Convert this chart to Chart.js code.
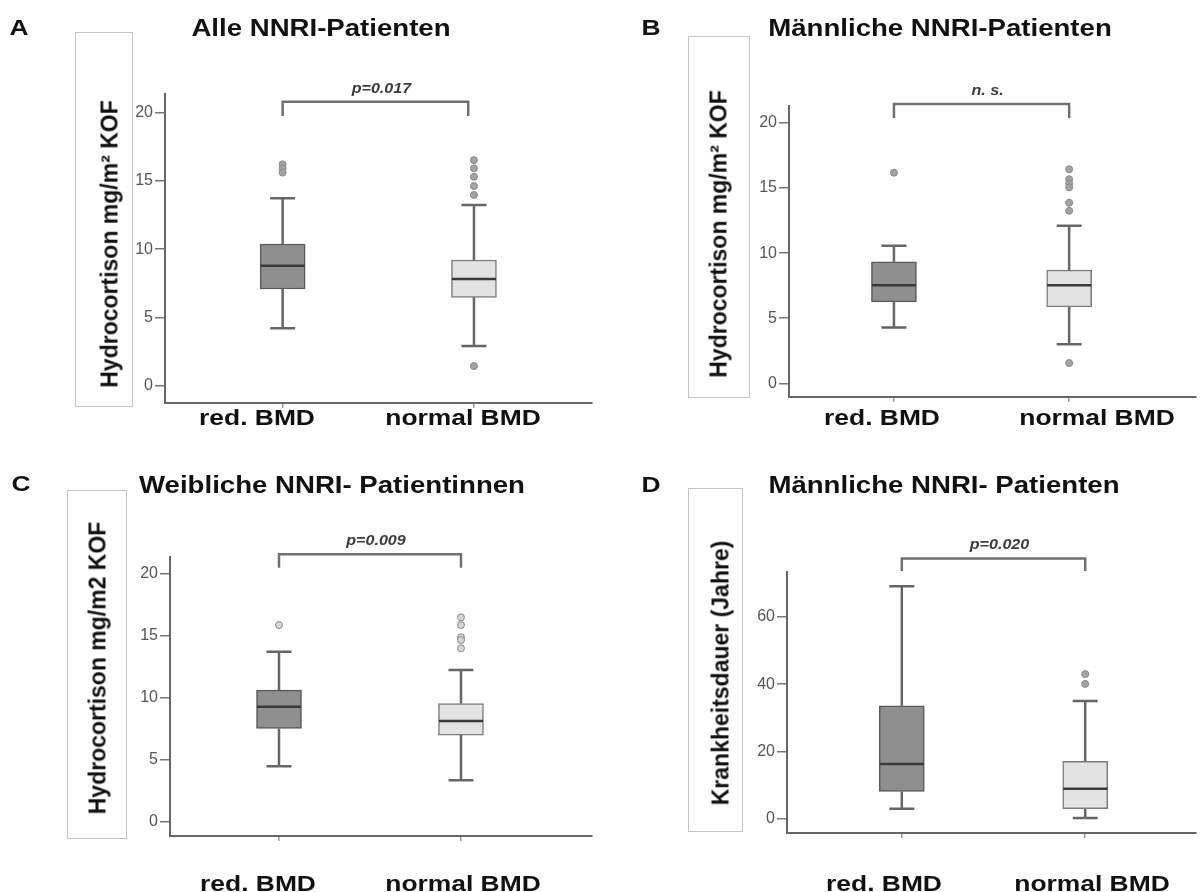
<!DOCTYPE html>
<html>
<head>
<meta charset="utf-8">
<script src="https://cdn.jsdelivr.net/npm/chart.js@4.4.0/dist/chart.umd.min.js"></script>
<style>
  body { margin: 0; width: 1201px; height: 892px; overflow: hidden; background: #fff; position: relative;
         font-family: "Liberation Sans", Arial, sans-serif; }
  canvas { position: absolute; }
  .txt { position: absolute; transform: translate(-50%, -50%) scaleX(1.2); white-space: nowrap;
         font-weight: bold; font-size: 22px; color: #111; }
  .title { font-size: 23px; }
  .ybox { position: absolute; border: 1px solid #c4c4c4; box-sizing: border-box; }
  .ylab { position: absolute; transform: translate(-50%, -50%) rotate(-90deg); white-space: nowrap;
          font-weight: bold; font-size: 23px; color: #111; }
</style>
</head>
<body>
<script>
const groups = ['red. BMD', 'normal BMD'];
const hydroTicks = [0, 5, 10, 15, 20];
const dauerTicks = [0, 20, 40, 60];

// box stats: [lower whisker, Q1, median, Q3, upper whisker]
const aRed = [4.22, 7.09, 8.79, 10.38, 13.72];
const aNormal = [2.92, 6.48, 7.82, 9.21, 13.23];
const aRedOut = [16.2, 15.9, 15.6];
const aNormalOut = [16.51, 15.91, 15.29, 14.61, 13.96, 1.46];

const bRed = [4.28, 6.25, 7.54, 9.33, 10.56];
const bNormal = [3.0, 5.87, 7.54, 8.69, 12.1];
const bRedOut = [16.18];
const bNormalOut = [16.44, 15.67, 15.35, 15.05, 13.87, 13.25, 1.56];

const cRed = [4.44, 7.49, 9.23, 10.58, 13.67];
const cNormal = [3.31, 6.95, 8.08, 9.5, 12.2];
const cRedOut = [15.83];
const cNormalOut = [16.45, 15.83, 14.84, 14.62, 13.95];

const dRed = [3.05, 8.2, 16.3, 33.6, 69.1];
const dNormal = [0.3, 3.05, 9.0, 17.1, 35.0];
const dRedOut = [];
const dNormalOut = [43.0, 40.1];

// significance brackets: x from/to, y leg bottom/top
const aBracketX = [1, 1.97], aBracketY = [19.73, 20.78];
const bBracketX = [1, 2], bBracketY = [20.38, 21.46];
const cBracketX = [1, 2], cBracketY = [20.46, 21.54];
const dBracketX = [1, 2], dBracketY = [73.6, 77.3];
const pLabels = ['p=0.017', 'n. s.', 'p=0.009', 'p=0.020'];

const titles = ['Alle NNRI-Patienten', 'Männliche NNRI-Patienten', 'Weibliche NNRI- Patientinnen', 'Männliche NNRI- Patienten'];
const yTitles = ['Hydrocortison mg/m² KOF', 'Hydrocortison mg/m² KOF', 'Hydrocortison mg/m2 KOF', 'Krankheitsdauer (Jahre)'];

Chart.defaults.font.family = '"Liberation Sans", Arial, sans-serif';

const panels = [
  { letter: 'A', left: 0, top: 0, w: 600, h: 446, area: { l: 165, t: 94, r: 592, b: 403 },
    xr: [0.385, 2.617], yr: [-1.24, 21.34], ticks: hydroTicks, stats: [aRed, aNormal], out: [aRedOut, aNormalOut],
    bx: aBracketX, by: aBracketY,
    letterPos: [19, 28], titlePos: [321, 28], box: [75, 32, 58, 375], yLabPos: [110, 244], xLab: [[257, 418], [463, 418]] },
  { letter: 'B', left: 600, top: 0, w: 601, h: 446, area: { l: 189, t: 106, r: 597, b: 397 },
    xr: [0.401, 2.724], yr: [-1.05, 21.3], ticks: hydroTicks, stats: [bRed, bNormal], out: [bRedOut, bNormalOut],
    bx: bBracketX, by: bBracketY,
    letterPos: [651, 28], titlePos: [940, 28], box: [688, 36, 62, 362], yLabPos: [719, 234], xLab: [[882, 418], [1097, 418]] },
  { letter: 'C', left: 0, top: 446, w: 600, h: 446, area: { l: 170, t: 111, r: 592, b: 390 },
    xr: [0.401, 2.72], yr: [-1.19, 21.32], ticks: hydroTicks, stats: [cRed, cNormal], out: [cRedOut, cNormalOut],
    bx: cBracketX, by: cBracketY,
    letterPos: [21, 484], titlePos: [332, 485], box: [67, 490, 60, 349], yLabPos: [98, 668], xLab: [[258, 884], [463, 884]] },
  { letter: 'D', left: 600, top: 446, w: 601, h: 446, area: { l: 187, t: 126, r: 600, b: 387 },
    xr: [0.374, 2.604], yr: [-4.15, 73.3], ticks: dauerTicks, stats: [dRed, dNormal], out: [dRedOut, dNormalOut],
    bx: dBracketX, by: dBracketY,
    letterPos: [651, 485], titlePos: [944, 485], box: [688, 488, 55, 344], yLabPos: [721, 673], xLab: [[884, 884], [1092, 884]] }
];

// whiskers, medians, bracket and p label, placed through the chart scales
const boxExtras = {
  id: 'boxExtras',
  afterDatasetsDraw(chart, args, opts) {
    const { ctx } = chart;
    const x = chart.scales.x, y = chart.scales.y;
    ctx.save();
    opts.stats.forEach((s, i) => {
      const px = x.getPixelForValue(i + 1);
      ctx.strokeStyle = '#666';
      ctx.lineWidth = 2.5;
      ctx.beginPath();
      ctx.moveTo(px, y.getPixelForValue(s[4]));
      ctx.lineTo(px, y.getPixelForValue(s[3]));
      ctx.moveTo(px, y.getPixelForValue(s[1]));
      ctx.lineTo(px, y.getPixelForValue(s[0]));
      ctx.moveTo(px - 12.5, y.getPixelForValue(s[4]));
      ctx.lineTo(px + 12.5, y.getPixelForValue(s[4]));
      ctx.moveTo(px - 12.5, y.getPixelForValue(s[0]));
      ctx.lineTo(px + 12.5, y.getPixelForValue(s[0]));
      ctx.stroke();
      ctx.strokeStyle = '#3a3a3a';
      ctx.beginPath();
      ctx.moveTo(px - 22, y.getPixelForValue(s[2]));
      ctx.lineTo(px + 22, y.getPixelForValue(s[2]));
      ctx.stroke();
    });
    const bx = opts.bx.map(v => x.getPixelForValue(v));
    const by = opts.by.map(v => y.getPixelForValue(v));
    ctx.strokeStyle = '#707070';
    ctx.lineWidth = 2.5;
    ctx.beginPath();
    ctx.moveTo(bx[0], by[0]);
    ctx.lineTo(bx[0], by[1]);
    ctx.lineTo(bx[1], by[1]);
    ctx.lineTo(bx[1], by[0]);
    ctx.stroke();
    ctx.translate((bx[0] + bx[1]) / 2 + 6, by[1] - 13);
    ctx.scale(1.15, 1);
    ctx.font = 'italic bold 14px "Liberation Sans", Arial, sans-serif';
    ctx.fillStyle = '#3c3c3c';
    ctx.textAlign = 'center';
    ctx.textBaseline = 'middle';
    ctx.fillText(opts.p, 0, 0);
    ctx.restore();
  }
};

function addText(cls, text, pos) {
  const d = document.createElement('div');
  d.className = cls;
  d.textContent = text;
  d.style.left = pos[0] + 'px';
  d.style.top = pos[1] + 'px';
  document.body.appendChild(d);
}

panels.forEach((p, k) => {
  const box = document.createElement('div');
  box.className = 'ybox';
  box.style.left = p.box[0] + 'px';
  box.style.top = p.box[1] + 'px';
  box.style.width = p.box[2] + 'px';
  box.style.height = p.box[3] + 'px';
  document.body.appendChild(box);

  const canvas = document.createElement('canvas');
  canvas.width = p.w;
  canvas.height = p.h;
  canvas.style.left = p.left + 'px';
  canvas.style.top = p.top + 'px';
  document.body.appendChild(canvas);

  addText('txt', p.letter, p.letterPos);
  addText('txt title', titles[k], p.titlePos);
  addText('ylab', yTitles[k], p.yLabPos);
  groups.forEach((g, i) => addText('txt', g, p.xLab[i]));

  new Chart(canvas, {
    type: 'bar',
    data: {
      datasets: [
        {
          type: 'bar',
          data: p.stats.map((s, i) => ({ x: i + 1, y: [s[1], s[3]] })),
          backgroundColor: ['#8f8f8f', '#e3e3e3'],
          borderColor: ['#585858', '#7c7c7c'],
          borderWidth: 1.5,
          borderSkipped: false,
          barThickness: 45
        },
        {
          type: 'scatter',
          data: p.out.flatMap((o, i) => o.map(v => ({ x: i + 1, y: v }))),
          pointRadius: 3.5,
          pointBackgroundColor: k === 2 ? '#d6d6d6' : '#a3a3a3',
          pointBorderColor: '#8a8a8a',
          pointBorderWidth: 1
        }
      ]
    },
    options: {
      responsive: false,
      animation: false,
      layout: {
        padding: { left: p.area.l - 50, top: p.area.t, right: p.w - p.area.r, bottom: p.h - p.area.b - 10 }
      },
      plugins: {
        legend: { display: false },
        tooltip: { enabled: false },
        boxExtras: { stats: p.stats, bx: p.bx, by: p.by, p: pLabels[k] }
      },
      scales: {
        x: {
          type: 'linear',
          offset: false,
          min: p.xr[0],
          max: p.xr[1],
          afterBuildTicks: s => { s.ticks = [{ value: 1 }, { value: 2 }]; },
          afterFit: s => { s.height = 10; },
          ticks: { display: false },
          grid: { offset: false, drawOnChartArea: false, tickLength: 5, color: '#999', lineWidth: 1.5 },
          border: { color: '#666', width: 2 }
        },
        y: {
          type: 'linear',
          min: p.yr[0],
          max: p.yr[1],
          afterBuildTicks: s => { s.ticks = p.ticks.map(v => ({ value: v })); },
          afterFit: s => { s.width = 50; },
          ticks: { color: '#555', font: { size: 16 }, padding: 2 },
          grid: { drawOnChartArea: false, tickLength: 10, color: '#777', lineWidth: 1.5 },
          border: { color: '#666', width: 2 }
        }
      }
    },
    plugins: [boxExtras]
  });
});
</script>
</body>
</html>
